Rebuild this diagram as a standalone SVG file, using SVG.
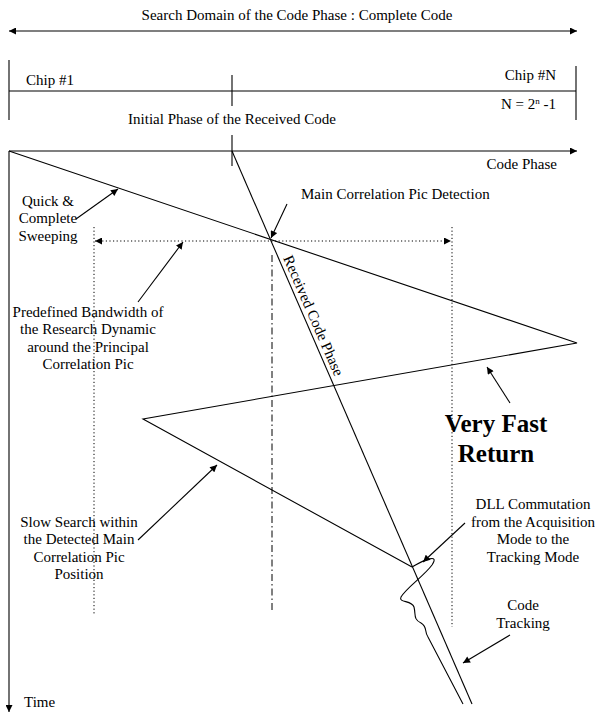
<svg xmlns="http://www.w3.org/2000/svg" width="595" height="715" viewBox="0 0 595 715">
<style>
text{font-family:"Liberation Serif","Times New Roman",serif;font-size:15px;fill:#000}
.c{text-anchor:middle}
.r{text-anchor:end}
.ln{stroke:#000;stroke-width:1.1;fill:none}
.dot{stroke:#000;stroke-width:1;fill:none;stroke-dasharray:1.2,2.4}
.dd{stroke:#000;stroke-width:1;fill:none;stroke-dasharray:7,3,1.5,3}
.big{font-size:25px;font-weight:bold}
</style>
<defs>
<marker id="ah" viewBox="0 0 10 10" refX="10" refY="5" markerWidth="8" markerHeight="7" markerUnits="userSpaceOnUse" orient="auto-start-reverse"><path d="M0,0L10,5L0,10z" fill="#000"/></marker>
</defs>
<rect width="595" height="715" fill="#fff"/>

<g id="header">
<text class="c" x="297" y="20">Search Domain of the Code Phase : Complete Code</text>
<line class="ln" x1="9" y1="31" x2="577" y2="31" marker-start="url(#ah)" marker-end="url(#ah)"/>
<line class="ln" x1="9" y1="60" x2="9" y2="120"/>
<line class="ln" x1="576" y1="66" x2="576" y2="120"/>
<line class="ln" x1="9" y1="91" x2="576" y2="91"/>
<line class="ln" x1="232" y1="75" x2="232" y2="106"/>
<text x="26" y="85">Chip #1</text>
<text class="r" x="556" y="80">Chip #N</text>
<text class="r" x="556" y="109">N = 2<tspan font-size="9" dy="-5">n</tspan><tspan dy="5"> -1</tspan></text>
<text class="c" x="232" y="124">Initial Phase of the Received Code</text>
</g>

<g id="axes">
<line class="ln" x1="9" y1="151" x2="577" y2="151" marker-end="url(#ah)"/>
<text class="r" x="557" y="169">Code Phase</text>
<line class="ln" x1="9" y1="151" x2="9" y2="712" marker-end="url(#ah)"/>
<text x="24" y="707">Time</text>
<line class="ln" x1="232" y1="135" x2="232" y2="166"/>
</g>

<g id="received-code">
<line class="ln" x1="232" y1="151" x2="472" y2="704"/>
<text transform="translate(283,258) rotate(66.5)">Received Code Phase</text>
</g>

<g id="search-path">
<polyline class="ln" points="9,151 577,343 143,419 412,567"/>
<path class="ln" d="M412,567 C424,560 440,553 432,565 C424,576 406,588 401,597 C398,603 412,600 414,607 C416,615 413,619 421,623 C428,627 424,632 428,637 L463,704"/>
</g>

<g id="bandwidth">
<line class="dot" x1="94" y1="227" x2="94" y2="615"/>
<line class="dot" x1="452" y1="227" x2="452" y2="627"/>
<line class="dot" x1="95" y1="241" x2="451" y2="241" marker-start="url(#ah)" marker-end="url(#ah)"/>
<line class="dd" x1="272" y1="255" x2="272" y2="610"/>
</g>

<g id="connectors">
<line class="ln" x1="76" y1="219" x2="118" y2="189" marker-end="url(#ah)"/>
<line class="ln" x1="287" y1="204" x2="271" y2="238" marker-end="url(#ah)"/>
<line class="ln" x1="138" y1="302" x2="183" y2="242" marker-end="url(#ah)"/>
<line class="ln" x1="510" y1="403" x2="487" y2="367" marker-end="url(#ah)"/>
<line class="ln" x1="138" y1="540" x2="217" y2="465" marker-end="url(#ah)"/>
<line class="ln" x1="465" y1="523" x2="423" y2="562" marker-end="url(#ah)"/>
<line class="ln" x1="510" y1="635" x2="463" y2="663" marker-end="url(#ah)"/>
</g>

<g id="label-quick">
<text class="c" x="48" y="206">Quick &amp;</text>
<text class="c" x="48" y="223">Complete</text>
<text class="c" x="48" y="241">Sweeping</text>
</g>

<g id="label-main">
<text x="301" y="199">Main Correlation Pic Detection</text>
</g>

<g id="label-bandwidth">
<text class="c" x="88" y="317">Predefined Bandwidth of</text>
<text class="c" x="88" y="334">the Research Dynamic</text>
<text class="c" x="88" y="352">around the Principal</text>
<text class="c" x="88" y="369">Correlation Pic</text>
</g>

<g id="label-fast">
<text class="c big" x="496" y="432">Very Fast</text>
<text class="c big" x="496" y="462">Return</text>
</g>

<g id="label-slow">
<text class="c" x="79" y="527">Slow Search within</text>
<text class="c" x="79" y="544">the Detected Main</text>
<text class="c" x="79" y="562">Correlation Pic</text>
<text class="c" x="79" y="579">Position</text>
</g>

<g id="label-dll">
<text class="c" x="533" y="509">DLL Commutation</text>
<text class="c" x="533" y="527">from the Acquisition</text>
<text class="c" x="533" y="544">Mode to the</text>
<text class="c" x="533" y="562">Tracking Mode</text>
</g>

<g id="label-tracking">
<text class="c" x="523" y="610">Code</text>
<text class="c" x="523" y="628">Tracking</text>
</g>
</svg>
